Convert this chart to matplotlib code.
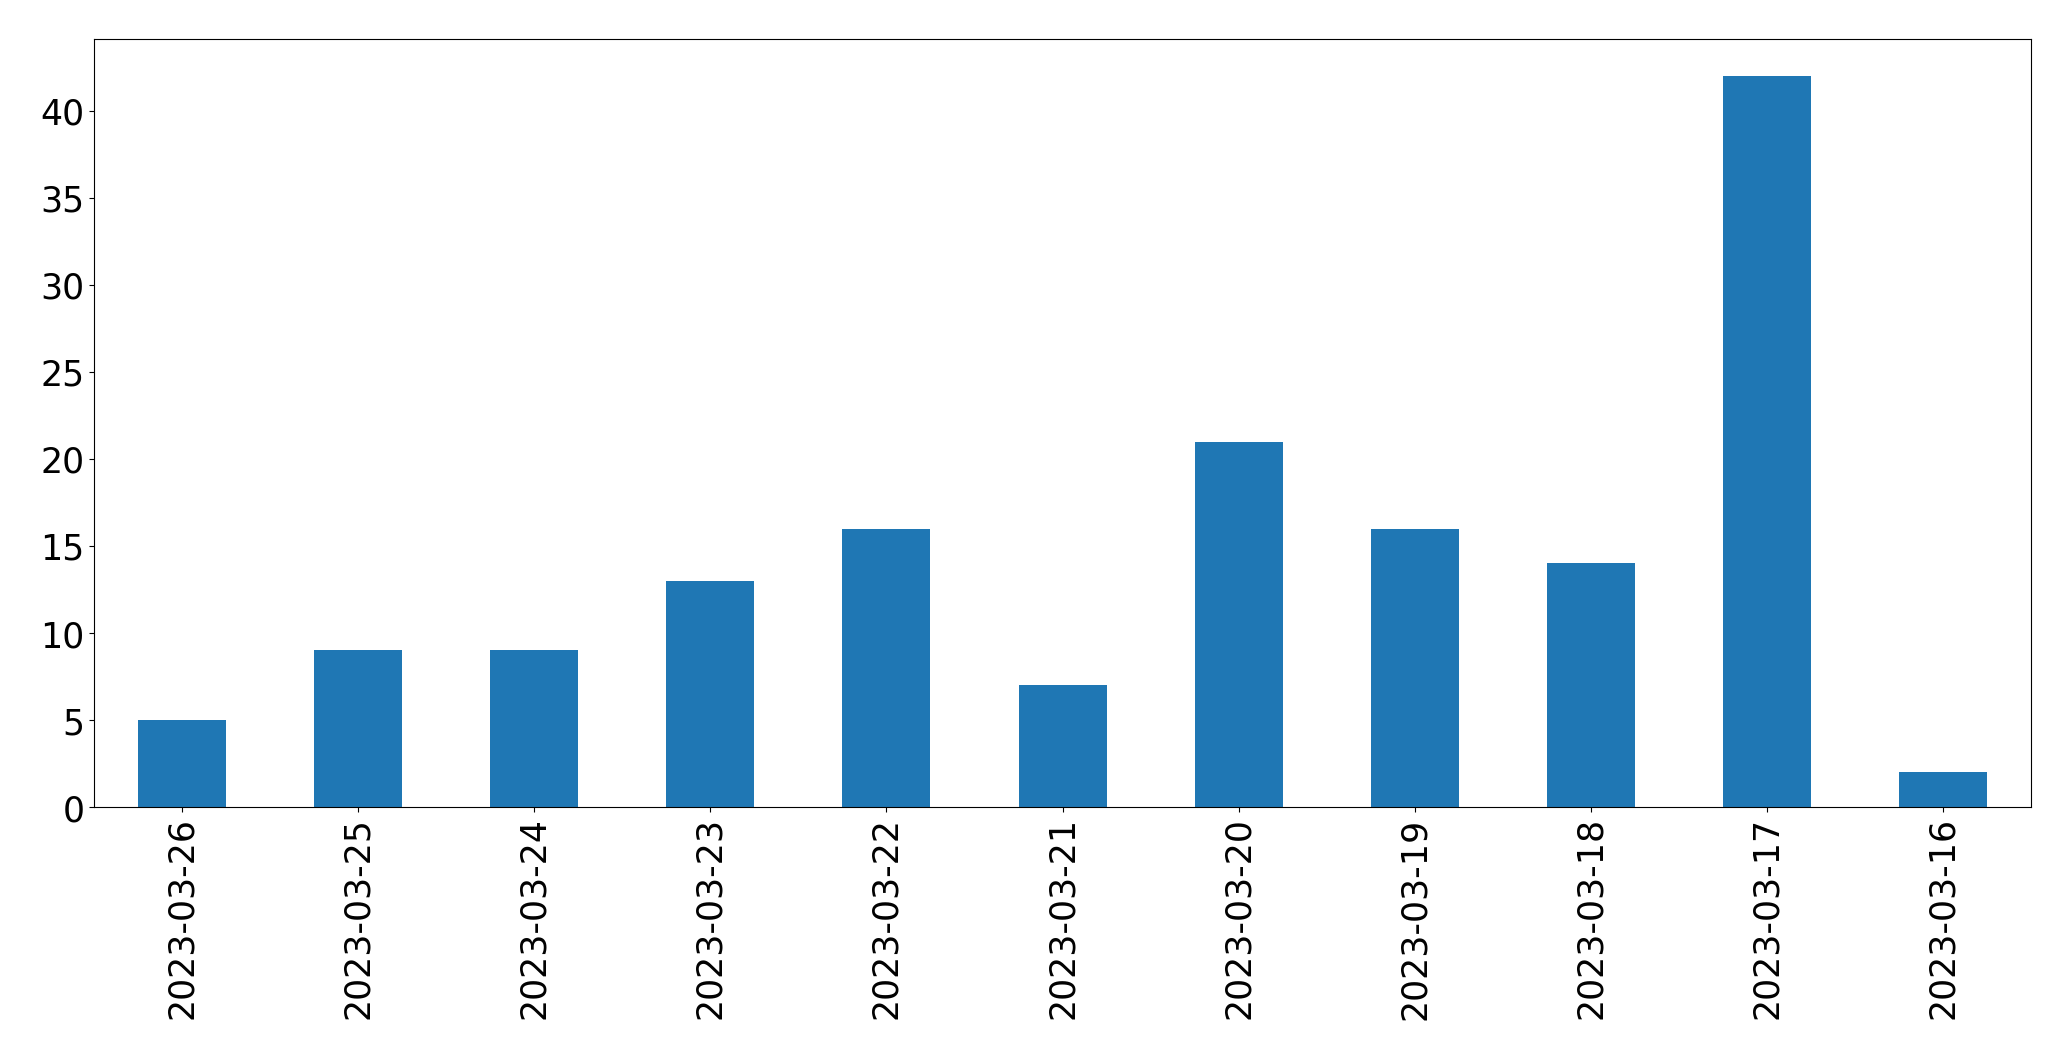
import matplotlib
matplotlib.use("Agg")
import matplotlib.pyplot as plt
import pandas as pd

dates = ["2023-03-26", "2023-03-25", "2023-03-24", "2023-03-23", "2023-03-22", "2023-03-21",
         "2023-03-20", "2023-03-19", "2023-03-18", "2023-03-17", "2023-03-16"]
counts = [5, 9, 9, 13, 16, 7, 21, 16, 14, 42, 2]

series = pd.Series(counts, index=dates)

fig, ax = plt.subplots(figsize=(20.71, 10.605), dpi=100)
series.plot(kind="bar", ax=ax, color="#1f77b4")
ax.tick_params(axis="both", labelsize=25)
fig.subplots_adjust(left=0.0454, right=0.9807, top=0.9623, bottom=0.2385)
fig.savefig("out.png", dpi=100)
